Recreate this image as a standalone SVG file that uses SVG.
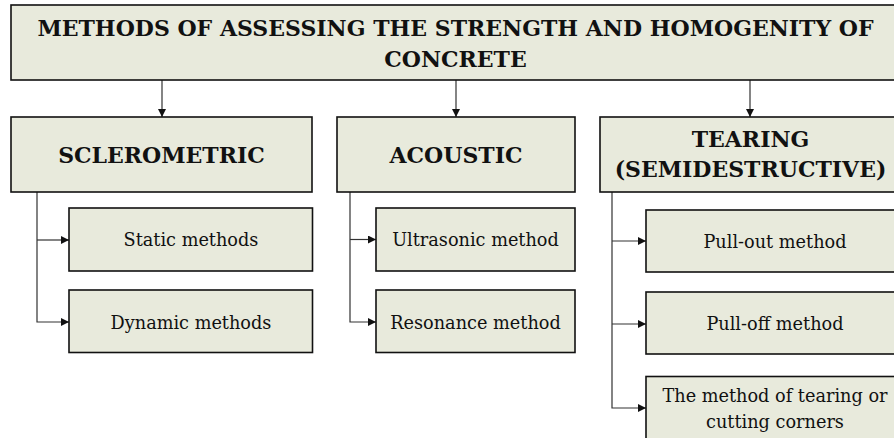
<svg xmlns="http://www.w3.org/2000/svg" width="894" height="438" viewBox="0 0 894 438">
  <style>
    .box { fill: #e8eadc; stroke: #111; stroke-width: 1.6; }
    .head { font-family: "DejaVu Serif", "Liberation Serif", serif; font-weight: bold; font-size: 22px; fill: #111; text-anchor: middle; }
    .item { font-family: "DejaVu Serif", "Liberation Serif", serif; font-size: 17.7px; fill: #111; text-anchor: middle; }
    .link { fill: none; stroke: #333; stroke-width: 1.2; }
  </style>
  <defs>
    <marker id="arrow" viewBox="0 0 10 10" refX="10" refY="5" markerWidth="8" markerHeight="8" markerUnits="userSpaceOnUse" orient="auto">
      <path d="M0,0 L10,5 L0,10 Z" fill="#111"/>
    </marker>
  </defs>

  <rect width="894" height="438" fill="#ffffff"/>

  <g id="connectors">
    <!-- root to categories -->
    <line class="link" x1="162" y1="80" x2="162" y2="117" marker-end="url(#arrow)"/>
    <line class="link" x1="456" y1="80" x2="456" y2="117" marker-end="url(#arrow)"/>
    <line class="link" x1="750" y1="80" x2="750" y2="117" marker-end="url(#arrow)"/>
    <!-- sclerometric branch -->
    <polyline class="link" points="37,192 37,322 69,322" marker-end="url(#arrow)"/>
    <line class="link" x1="37" y1="240" x2="69" y2="240" marker-end="url(#arrow)"/>
    <!-- acoustic branch -->
    <polyline class="link" points="350,192 350,322 376,322" marker-end="url(#arrow)"/>
    <line class="link" x1="350" y1="239.5" x2="376" y2="239.5" marker-end="url(#arrow)"/>
    <!-- tearing branch -->
    <polyline class="link" points="612,192 612,408 646,408" marker-end="url(#arrow)"/>
    <line class="link" x1="612" y1="241" x2="646" y2="241" marker-end="url(#arrow)"/>
    <line class="link" x1="612" y1="324" x2="646" y2="324" marker-end="url(#arrow)"/>
  </g>

  <g id="root">
    <rect class="box" x="11" y="5" width="890" height="75"/>
    <text class="head" x="455.5" y="36">METHODS OF ASSESSING THE STRENGTH AND HOMOGENITY OF</text>
    <text class="head" x="455.5" y="66.5">CONCRETE</text>
  </g>

  <g id="sclerometric">
    <rect class="box" x="11" y="117" width="301" height="75"/>
    <text class="head" x="161.5" y="163">SCLEROMETRIC</text>
  </g>

  <g id="acoustic">
    <rect class="box" x="337" y="117" width="238" height="75"/>
    <text class="head" x="456" y="163">ACOUSTIC</text>
  </g>

  <g id="tearing">
    <rect class="box" x="600" y="117" width="301" height="75"/>
    <text class="head" x="750.5" y="147">TEARING</text>
    <text class="head" x="750.5" y="177">(SEMIDESTRUCTIVE)</text>
  </g>

  <g id="static-methods">
    <rect class="box" x="69" y="208" width="243.5" height="63"/>
    <text class="item" x="191" y="245.5">Static methods</text>
  </g>

  <g id="dynamic-methods">
    <rect class="box" x="69" y="290" width="243.5" height="62.5"/>
    <text class="item" x="191" y="329">Dynamic methods</text>
  </g>

  <g id="ultrasonic-method">
    <rect class="box" x="376" y="208" width="199" height="63"/>
    <text class="item" x="475.5" y="245.5">Ultrasonic method</text>
  </g>

  <g id="resonance-method">
    <rect class="box" x="376" y="290" width="199" height="62.5"/>
    <text class="item" x="475.5" y="329">Resonance method</text>
  </g>

  <g id="pull-out-method">
    <rect class="box" x="646" y="210" width="258" height="62"/>
    <text class="item" x="775" y="248">Pull-out method</text>
  </g>

  <g id="pull-off-method">
    <rect class="box" x="646" y="292" width="258" height="62"/>
    <text class="item" x="775" y="330">Pull-off method</text>
  </g>

  <g id="tearing-corners">
    <rect class="box" x="646" y="376.5" width="258" height="70"/>
    <text class="item" x="775" y="401.5">The method of tearing or</text>
    <text class="item" x="775" y="428">cutting corners</text>
  </g>
</svg>
